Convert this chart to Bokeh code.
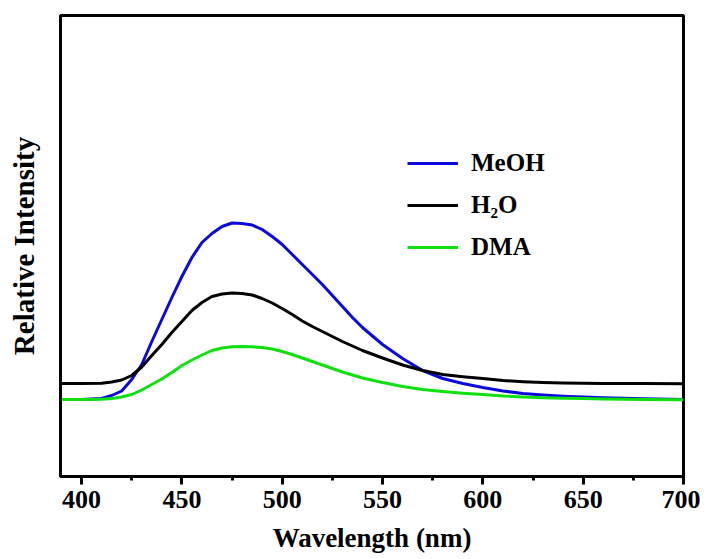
from bokeh.plotting import figure
from bokeh.models import Range1d, FixedTicker, Legend, LegendItem
from bokeh.embed import file_html
from bokeh.resources import INLINE

wavelength = [390, 400, 410, 415, 420, 425, 430, 435, 440, 445, 450, 455, 460, 465, 470,
              475, 480, 485, 490, 495, 500, 505, 510, 515, 520, 525, 530, 535, 540, 550,
              560, 570, 580, 590, 600, 610, 620, 630, 640, 650, 660, 680, 700]
meoh = [77, 77, 78, 81, 85.5, 97, 112, 135, 157, 179, 200, 219, 234, 243, 250,
        253.5, 253, 251.5, 247, 240, 232, 222, 212, 202, 192, 181, 170, 159, 149, 132,
        118, 106, 98, 93, 89, 85.5, 83, 81.5, 80.3, 79.5, 78.7, 77.7, 77]
h2o = [93, 93, 93.3, 94.5, 96.5, 101, 109.5, 121, 132, 144, 155, 166, 174, 180, 182.5,
       183.5, 183, 181.5, 178, 173.5, 168, 162, 155.5, 150, 145, 140, 135, 130.5, 126, 118.5,
       111.5, 106, 102, 99.8, 98, 96, 94.8, 94, 93.5, 93.2, 93, 93, 92.7]
dma = [77, 77, 77.2, 78, 79.5, 82, 86.5, 92, 97.5, 104, 111, 116.5, 121.5, 126, 128.5,
       129.7, 130, 129.7, 129, 127.5, 125, 122, 118.5, 115, 111.5, 108, 104.5, 101.5, 98.5, 94,
       90, 87, 85, 83.3, 82, 80.5, 79.5, 78.8, 78.3, 78, 77.6, 77, 76.7]
x_ticks = [400, 450, 500, 550, 600, 650, 700]
x_minor = [425, 475, 525, 575, 625, 675]
series_names = ["MeOH", "H\u2082O", "DMA"]
series_colors = ["#0a0ae0", "#000000", "#10e010"]

FONT = "Liberation Serif"

p = figure(width=700, height=559, output_backend="svg", toolbar_location=None,
           x_range=Range1d(389.5, 700), y_range=Range1d(0, 461),
           min_border_left=60, min_border_right=17, min_border_top=15, min_border_bottom=83)
p.frame_width = 623
p.frame_height = 461
p.grid.visible = False
p.outline_line_color = "black"
p.outline_line_width = 3
p.outline_line_alpha = 1

renderers = []
for ys, c in zip([meoh, h2o, dma], series_colors):
    r = p.line(wavelength, ys, line_color=c, line_width=3, line_join="round")
    renderers.append(r)

legend = Legend(items=[LegendItem(label=n, renderers=[r]) for n, r in zip(series_names, renderers)],
                location=(347, 214), padding=0, margin=0, spacing=12,
                glyph_width=51, glyph_height=30, label_height=30, label_standoff=13,
                border_line_color=None, background_fill_alpha=0,
                label_text_font=FONT, label_text_font_style="bold",
                label_text_font_size="25px", label_text_color="black")
p.add_layout(legend)

xa = p.xaxis[0]
xa.ticker = FixedTicker(ticks=x_ticks, minor_ticks=x_minor)
xa.axis_line_width = 3
xa.major_tick_line_width = 3
xa.minor_tick_line_width = 3
xa.major_tick_in = 0
xa.major_tick_out = 8
xa.minor_tick_in = 0
xa.minor_tick_out = 4
xa.major_label_text_font = FONT
xa.major_label_text_font_style = "bold"
xa.major_label_text_font_size = "26px"
xa.major_label_text_color = "black"
xa.major_label_standoff = 6
xa.axis_label = "Wavelength (nm)"
xa.axis_label_text_font = FONT
xa.axis_label_text_font_style = "bold"
xa.axis_label_text_font_size = "27px"
xa.axis_label_text_color = "black"
xa.axis_label_standoff = 12

ya = p.yaxis[0]
ya.ticker = FixedTicker(ticks=[])
ya.axis_line_width = 3
ya.major_tick_line_color = None
ya.minor_tick_line_color = None
ya.major_label_text_font_size = "0px"
ya.axis_label = "Relative Intensity"
ya.axis_label_text_font = FONT
ya.axis_label_text_font_style = "bold"
ya.axis_label_text_font_size = "29px"
ya.axis_label_text_color = "black"
ya.axis_label_standoff = 21

open("out.html", "w").write(file_html(p, INLINE))
